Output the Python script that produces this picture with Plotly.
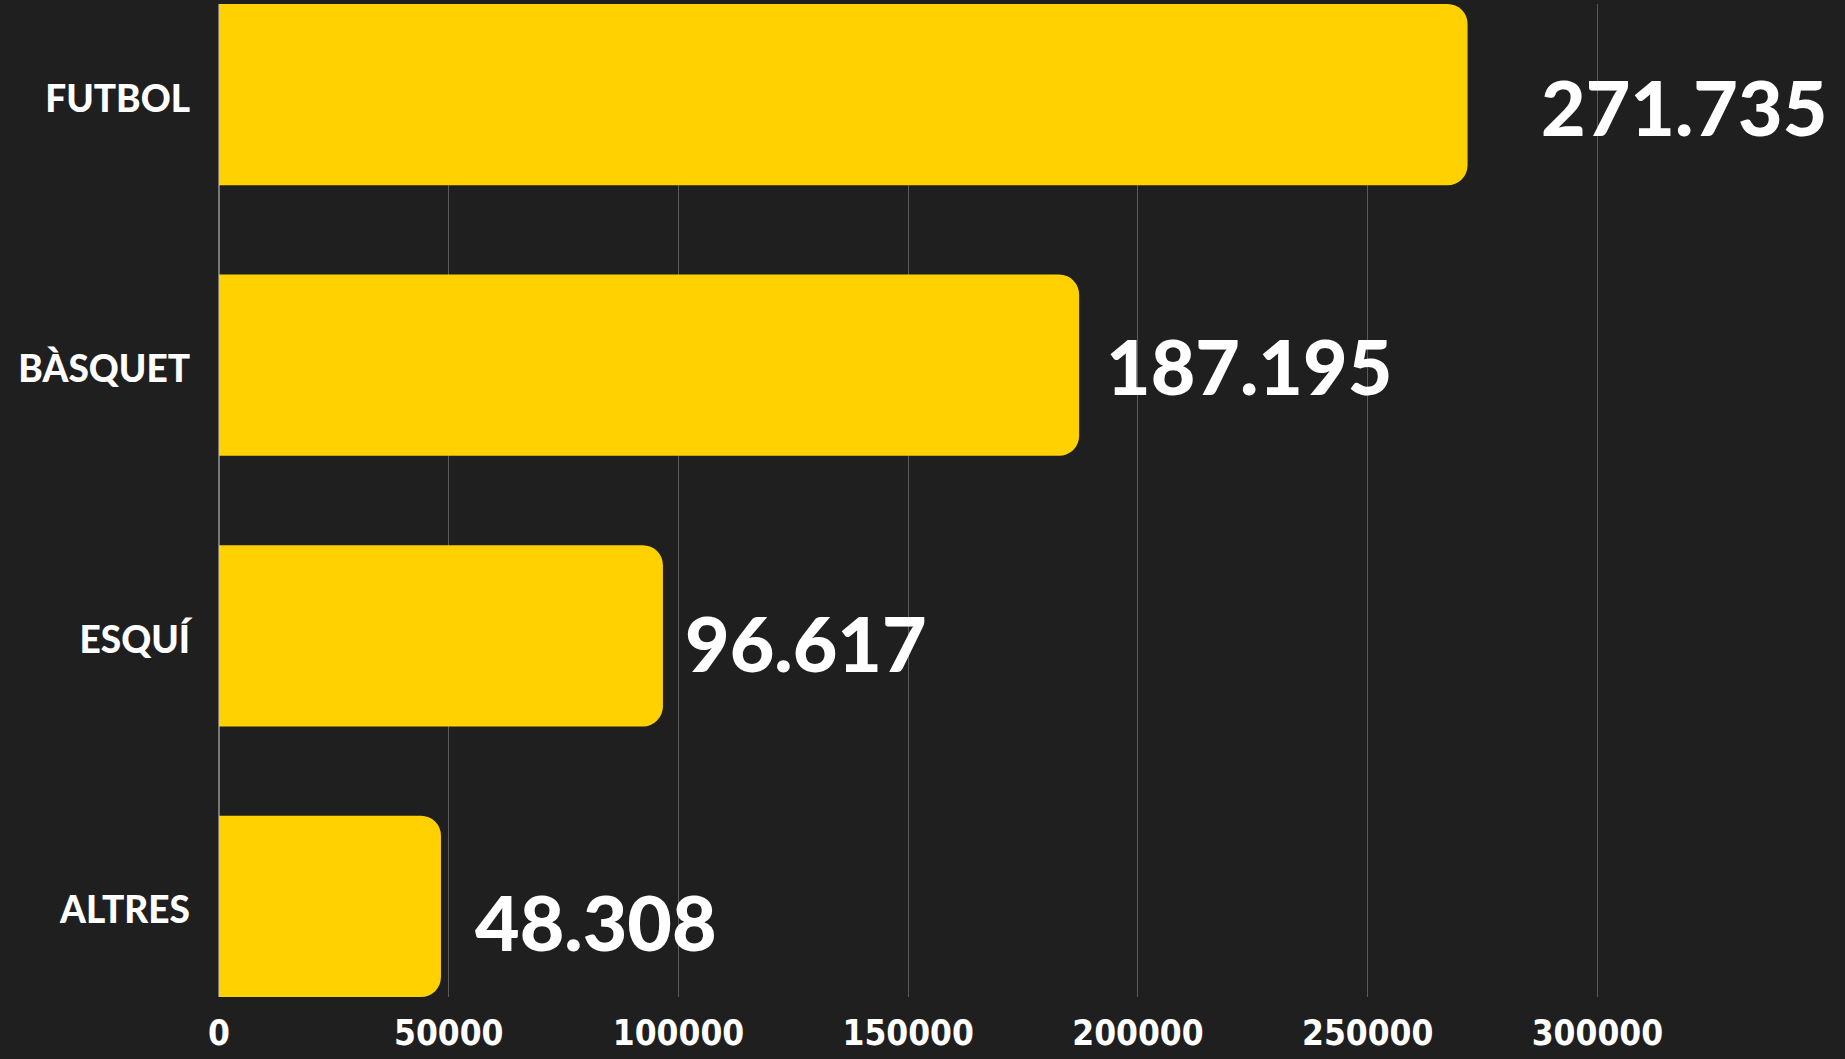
import plotly.graph_objects as go

categories = ["FUTBOL", "BÀSQUET", "ESQUÍ", "ALTRES"]
values = [271735, 187195, 96617, 48308]
x_tick_values = [0, 50000, 100000, 150000, 200000, 250000, 300000]
x_tick_labels = ["0", "50000", "100000", "150000", "200000", "250000", "300000"]

BG = "#1f1f1f"
BAR = "#ffd100"

fig = go.Figure()
fig.add_trace(go.Bar(
    x=values, y=categories, orientation="h",
    marker=dict(color=BAR, cornerradius=20, line=dict(width=0)),
    hoverinfo="skip",
))

# value labels (per-label visual offsets in pixels)
label_xshift = [71, 25, 20, 32]
label_yshift = [-11, 0, -6, -15]
for c, v, dx, dy in zip(categories, values, label_xshift, label_yshift):
    fig.add_annotation(
        x=v, y=c, xref="x", yref="y",
        text=f"{v:,}".replace(",", "."),
        showarrow=False, xanchor="left", yanchor="middle",
        xshift=dx, yshift=dy,
        font=dict(family="Lato", size=77, color="white", weight=900),
    )

fig.update_layout(
    width=1845, height=1059,
    paper_bgcolor=BG, plot_bgcolor=BG,
    margin=dict(l=219, r=27, t=4, b=62),
    showlegend=False,
    bargap=0.33,
)
fig.update_xaxes(
    range=[0, 348000],
    tickmode="array", tickvals=x_tick_values, ticktext=x_tick_labels,
    showgrid=True, gridcolor="#5a5a5a", gridwidth=1,
    zeroline=True, zerolinecolor="#777777", zerolinewidth=2,
    showline=False, ticks="",
    ticklabelstandoff=12,
    tickfont=dict(family="DejaVu Sans Condensed, DejaVu Sans", size=35, color="white", weight="bold"),
    fixedrange=True,
)
fig.update_yaxes(
    categoryorder="array", categoryarray=categories,
    range=[3.335, -0.335],
    showgrid=False, zeroline=False, showline=False, ticks="",
    ticklabelstandoff=28,
    ticklabelshift=-4,
    tickfont=dict(family="Lato", size=37, color="white", weight=900),
    fixedrange=True,
)

fig.write_html(
    "out.html",
    config={"displayModeBar": False},
    post_script="document.body.style.margin='0';document.body.style.background='#1f1f1f';",
)
